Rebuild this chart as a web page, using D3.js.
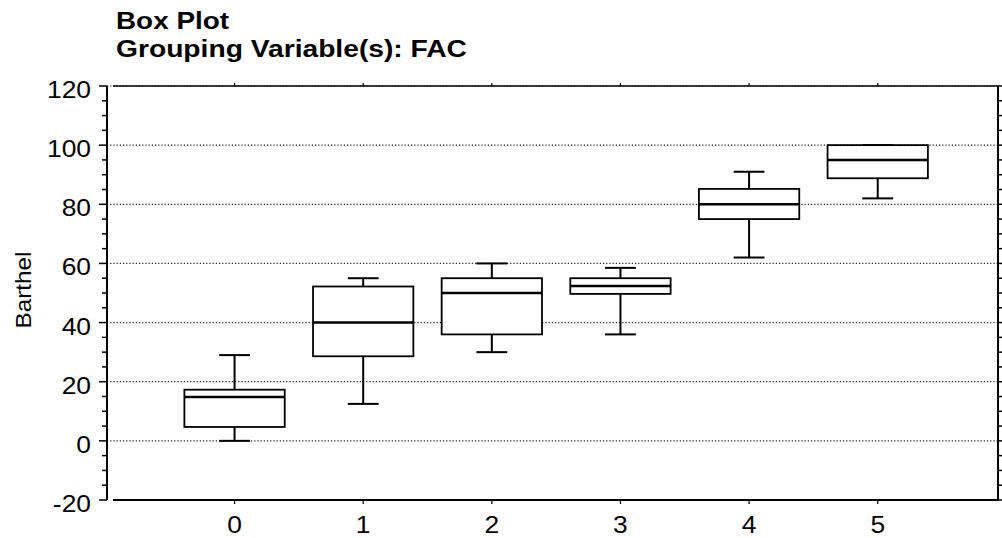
<!DOCTYPE html>
<head>
  <meta charset="utf-8">
  <script src="https://d3js.org/d3.v7.min.js"></script>
  <style>
    body { margin: 0; background: #fff; }
    text { font-family: "Liberation Sans", Arial, Helvetica, sans-serif; fill: #000; }
  </style>
</head>
<body>
  <svg width="1002" height="538"></svg>
  <script>
// FAC groups and Barthel box stats
var groups  = [0, 1, 2, 3, 4, 5];
var mins    = [0, 12.5, 30, 36, 62, 82];
var q1s     = [4.7, 28.6, 36, 49.7, 75, 88.8];
var medians = [14.8, 40, 50, 52.4, 80, 95];
var q3s     = [17.3, 52.2, 55, 55, 85.2, 100];
var maxs    = [29, 55, 60, 58.5, 91, 100];
var yTicks  = [-20, 0, 20, 40, 60, 80, 100, 120];
var gridTicks = [0, 20, 40, 60, 80, 100, 120];

var svg = d3.select("svg"),
    margin = {top: 86, right: 4, bottom: 38, left: 113},
    width = +svg.attr("width") - margin.left - margin.right,
    height = +svg.attr("height") - margin.top - margin.bottom;

var x = d3.scaleLinear().domain([-0.945, 5.935]).range([0, width]),
    y = d3.scaleLinear().domain([-20, 120]).range([height, 0]);

var g = svg.append("g")
    .attr("transform", "translate(" + margin.left + "," + margin.top + ")");

// dotted grid
g.selectAll(".grid")
    .data(gridTicks)
  .enter().append("line")
    .attr("x1", -6).attr("x2", width)
    .attr("y1", function(d) { return y(d); })
    .attr("y2", function(d) { return y(d); })
    .attr("stroke", "#222")
    .attr("stroke-width", 1.2)
    .attr("stroke-dasharray", "1.2,2");

// frame top line
g.append("line")
    .attr("x1", 0).attr("x2", width)
    .attr("y1", 0).attr("y2", 0)
    .attr("stroke", "#000").attr("stroke-width", 1.5);

// left axis (offset)
var minor = d3.range(-20, 121, 5);
var left = g.append("g").attr("transform", "translate(-6,0)");
left.append("line").attr("y1", 0).attr("y2", height).attr("stroke", "#000").attr("stroke-width", 2);
left.selectAll(".tk").data(minor).enter().append("line")
    .attr("x1", function(d) { return d % 20 === 0 ? -8 : -5; }).attr("x2", 0)
    .attr("y1", function(d) { return y(d); }).attr("y2", function(d) { return y(d); })
    .attr("stroke", "#000").attr("stroke-width", 1.5);

// right axis
var right = g.append("g").attr("transform", "translate(" + width + ",0)");
right.append("line").attr("y1", 0).attr("y2", height).attr("stroke", "#000").attr("stroke-width", 2);
right.selectAll(".tk").data(minor).enter().append("line")
    .attr("x1", 0).attr("x2", function(d) { return d % 20 === 0 ? 6 : 4; })
    .attr("y1", function(d) { return y(d); }).attr("y2", function(d) { return y(d); })
    .attr("stroke", "#000").attr("stroke-width", 1.5);

// bottom axis
g.append("line")
    .attr("x1", 0).attr("x2", width)
    .attr("y1", height).attr("y2", height)
    .attr("stroke", "#000").attr("stroke-width", 2);
g.selectAll(".btk").data(groups).enter().append("line")
    .attr("x1", function(d) { return x(d); }).attr("x2", function(d) { return x(d); })
    .attr("y1", height).attr("y2", height + 4)
    .attr("stroke", "#000").attr("stroke-width", 1.2);
g.selectAll(".ttk").data(groups).enter().append("line")
    .attr("x1", function(d) { return x(d); }).attr("x2", function(d) { return x(d); })
    .attr("y1", 0).attr("y2", -3)
    .attr("stroke", "#000").attr("stroke-width", 1.2);

// tick labels
g.selectAll(".ylab").data(yTicks).enter().append("text")
    .attr("transform", function(d) { return "translate(-22," + (y(d) + 12) + ") scale(1.1,1)"; })
    .attr("text-anchor", "end")
    .style("font-size", "24px")
    .text(function(d) { return d; });
g.selectAll(".xlab").data(groups).enter().append("text")
    .attr("transform", function(d) { return "translate(" + x(d) + "," + (height + 33) + ") scale(1.1,1)"; })
    .attr("text-anchor", "middle")
    .style("font-size", "24px")
    .text(function(d) { return d; });

// boxes
var bw = 0.39, cw = 0.12;
var box = g.selectAll(".box").data(groups).enter().append("g");
box.append("line") // whisker up
    .attr("x1", function(d) { return x(d); }).attr("x2", function(d) { return x(d); })
    .attr("y1", function(d, i) { return y(q3s[i]); }).attr("y2", function(d, i) { return y(maxs[i]); })
    .attr("stroke", "#000").attr("stroke-width", 2);
box.append("line") // whisker down
    .attr("x1", function(d) { return x(d); }).attr("x2", function(d) { return x(d); })
    .attr("y1", function(d, i) { return y(q1s[i]); }).attr("y2", function(d, i) { return y(mins[i]); })
    .attr("stroke", "#000").attr("stroke-width", 2);
box.append("line")
    .attr("x1", function(d) { return x(d - cw); }).attr("x2", function(d) { return x(d + cw); })
    .attr("y1", function(d, i) { return y(maxs[i]); }).attr("y2", function(d, i) { return y(maxs[i]); })
    .attr("stroke", "#000").attr("stroke-width", 2);
box.append("line")
    .attr("x1", function(d) { return x(d - cw); }).attr("x2", function(d) { return x(d + cw); })
    .attr("y1", function(d, i) { return y(mins[i]); }).attr("y2", function(d, i) { return y(mins[i]); })
    .attr("stroke", "#000").attr("stroke-width", 2);
box.append("rect")
    .attr("x", function(d) { return x(d - bw); })
    .attr("width", function(d) { return x(d + bw) - x(d - bw); })
    .attr("y", function(d, i) { return y(q3s[i]); })
    .attr("height", function(d, i) { return y(q1s[i]) - y(q3s[i]); })
    .attr("fill", "#fff").attr("stroke", "#000").attr("stroke-width", 1.8);
box.append("line")
    .attr("x1", function(d) { return x(d - bw); }).attr("x2", function(d) { return x(d + bw); })
    .attr("y1", function(d, i) { return y(medians[i]); }).attr("y2", function(d, i) { return y(medians[i]); })
    .attr("stroke", "#000").attr("stroke-width", 2.5);

// titles
svg.append("text")
    .attr("x", 116).attr("y", 29)
    .attr("textLength", 113).attr("lengthAdjust", "spacingAndGlyphs")
    .style("font-size", "23px").style("font-weight", "bold")
    .text("Box Plot");
svg.append("text")
    .attr("x", 116).attr("y", 57)
    .attr("textLength", 351).attr("lengthAdjust", "spacingAndGlyphs")
    .style("font-size", "23px").style("font-weight", "bold")
    .text("Grouping Variable(s): FAC");

svg.append("text")
    .attr("transform", "translate(31,290) rotate(-90)")
    .attr("text-anchor", "middle")
    .attr("textLength", 77).attr("lengthAdjust", "spacingAndGlyphs")
    .style("font-size", "22px")
    .text("Barthel");
  </script>
</body>
